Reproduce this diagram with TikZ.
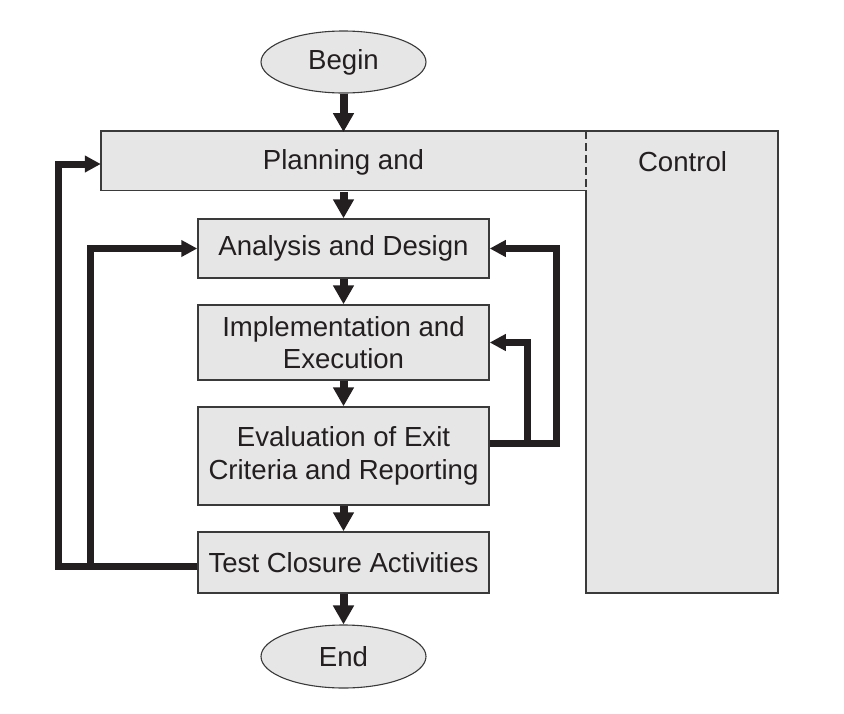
\documentclass[tikz,border=0pt]{standalone}
\usepackage{fontspec}
\setmainfont{Liberation Sans}
\usetikzlibrary{arrows.meta,shapes.geometric}
\definecolor{boxfill}{HTML}{E6E6E6}
\definecolor{boxline}{HTML}{3A3A3A}
\definecolor{ink}{HTML}{231F20}
\begin{document}
\begin{tikzpicture}[x=1pt,y=-1pt,
  txt/.style={font=\fontsize{27.6}{32.5}\selectfont, text=ink, align=center},
  stepbox/.style={txt, rectangle, draw=boxline, fill=boxfill, line width=1.5pt, minimum width=291pt, inner sep=0pt},
  term/.style={txt, ellipse, draw=boxline, fill=boxfill, line width=1.1pt, minimum width=165pt, minimum height=62pt, inner sep=0pt},
  flow/.style={draw=ink, line width=8pt, -{Triangle[length=19pt,width=20pt]}},
  back/.style={draw=ink, line width=7pt, line join=miter, -{Triangle[length=16pt,width=16pt]}},
]
\useasboundingbox (0,0) rectangle (844,713);

% Planning and Control frame
\draw[boxline, fill=boxfill, line width=1.5pt] (101,131) -- (778,131) -- (778,593) -- (586,593) -- (586,190.5) -- (101,190.5) -- cycle;
\draw[boxline, line width=1.3pt, dash pattern=on 8pt off 4pt] (586,131) -- (586,190.5);
\node[txt, inner sep=0pt, minimum width=485pt, minimum height=59.5pt] (plan) at (343.5,162) {Planning and};
\node[txt] (ctrl) at (682.5,162) {Control};

% terminals
\node[term] (begin) at (343.5,62) {Begin};
\node[term, minimum height=63pt] (end) at (343.5,656.5) {End};

% steps
\node[stepbox, minimum height=59pt] (ana) at (343.5,248.5) {Analysis and Design};
\node[stepbox, minimum height=75pt] (impl) at (343.5,342.5) {Implementation and\\Execution};
\node[stepbox, minimum height=98pt] (eval) at (343.5,456) {Evaluation of Exit\\Criteria and Reporting};
\node[stepbox, minimum height=61pt] (test) at (343.5,562.5) {Test Closure Activities};

% main flow
\draw[flow] (begin) -- (plan);
\draw[flow] (plan) -- (ana);
\draw[flow] (ana) -- (impl);
\draw[flow] (impl) -- (eval);
\draw[flow] (eval) -- (test);
\draw[flow] (test) -- (end);

% feedback loops
\coordinate (oL) at (58,566);
\coordinate (iL) at (90,566);
\coordinate (oR) at (556,443);
\coordinate (iR) at (527,443);
\draw[back] ([yshift=-3.5pt]test.west) -- (oL) |- ([yshift=-2pt]plan.west);
\draw[back] (iL) |- (ana.west);
\draw[back] ([yshift=13pt]eval.east) -- (oR) |- (ana.east);
\draw[back] (iR) |- (impl.east);
\end{tikzpicture}
\end{document}
